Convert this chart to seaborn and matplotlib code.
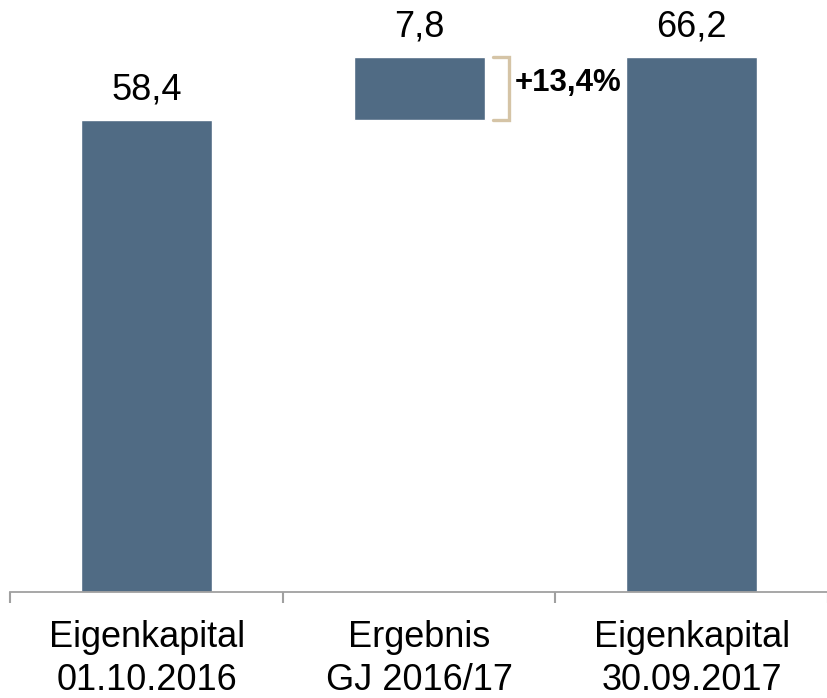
import pandas as pd
import matplotlib.pyplot as plt
import seaborn as sns

# data
categories = ["Eigenkapital\n01.10.2016", "Ergebnis\nGJ 2016/17", "Eigenkapital\n30.09.2017"]
values = [58.4, 7.8, 66.2]
bottoms = [0.0, 58.4, 0.0]
value_labels = ["58,4", "7,8", "66,2"]
change_label = "+13,4%"

bar_color = "#506b84"
bracket_color = "#d5c4a6"
axis_color = "#a0a0a0"

sns.set_style("white")
plt.rcParams["font.family"] = ["Liberation Sans", "DejaVu Sans"]
plt.rcParams["text.color"] = "black"
plt.rcParams["xtick.labelcolor"] = "black"

df = pd.DataFrame({"cat": categories, "value": values})

fig = plt.figure(figsize=(8.28, 6.98), dpi=100)
ax = fig.add_axes([10.3 / 828, 106 / 698, 1 - 10.3 / 828, 592 / 698])

sns.barplot(data=df, x="cat", y="value", color=bar_color, saturation=1,
            width=0.48, bottom=bottoms, ax=ax)

ax.set_xlim(-0.5, 2.476)
ax.set_ylim(0, 73.2)

# value labels above bars
for i, (v, b, lab) in enumerate(zip(values, bottoms, value_labels)):
    ax.annotate(lab, (i, v + b), xytext=(0, 14.5), textcoords="offset points",
                ha="center", va="baseline", fontsize=26, color="black")

# bracket next to the result bar
x0, x1 = 1.271, 1.329
ax.plot([x0, x1, x1, x0], [bottoms[1] + values[1], bottoms[1] + values[1], bottoms[1], bottoms[1]],
        color=bracket_color, lw=2.4, solid_joinstyle="miter", clip_on=False)
ax.text(1.352, 61.9, change_label, ha="left", va="baseline",
        fontsize=22.5, fontweight="bold", color="black")

# axes styling
for s in ["top", "right", "left"]:
    ax.spines[s].set_visible(False)
ax.spines["bottom"].set_color(axis_color)
ax.spines["bottom"].set_linewidth(1.3)
ax.set_yticks([])
ax.set_xlabel("")
ax.set_ylabel("")

ax.set_xticks([-0.5, 0.5, 1.5, 2.5])
ax.set_xticklabels([])
ax.tick_params(axis="x", which="major", length=8, width=1.5, color=axis_color, bottom=True)
ax.set_xticks([0, 1, 2], minor=True)
ax.set_xticklabels(categories, minor=True, fontsize=26, linespacing=1.3)
ax.tick_params(axis="x", which="minor", length=0, pad=20)

fig.savefig("out.png", dpi=100)
